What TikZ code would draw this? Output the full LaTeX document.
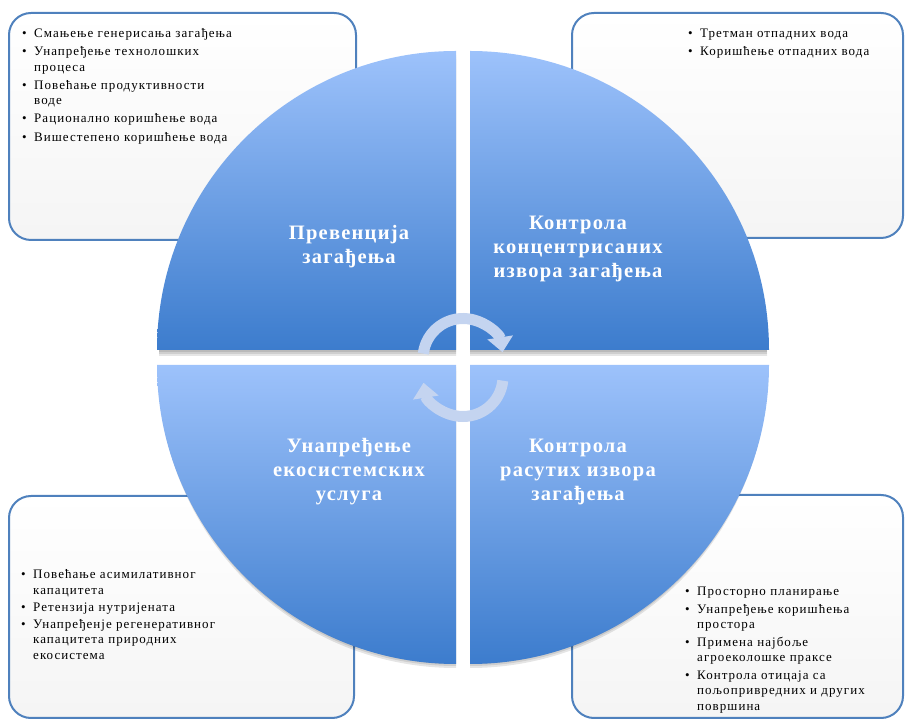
\documentclass[tikz,border=0pt]{standalone}
\usepackage{fontspec}
\setmainfont{Liberation Serif}
\newfontfamily\smallfont[LetterSpace=8]{Liberation Serif}
\newfontfamily\bigfont[LetterSpace=6]{Liberation Serif}
\usetikzlibrary{arrows.meta}
\definecolor{qlight}{RGB}{157,194,251}
\definecolor{qdark}{RGB}{60,124,205}
\definecolor{boxline}{RGB}{79,129,189}
\definecolor{arrowc}{RGB}{196,212,240}
\newcommand\bitem[1]{\par\hangindent=12pt\hangafter=1\noindent\makebox[12pt][l]{\textbullet}\strut#1\par}
\tikzset{
  quad/.style={top color=qlight, bottom color=qdark},
  qshadow/.style={fill=black, opacity=0.10},
  infobox/.style={draw=boxline, line width=2pt, rounded corners=22pt, top color=white, bottom color=black!4},
  qlabel/.style={text=white, align=center, inner sep=0pt, font=\bigfont\bfseries\fontsize{20.5}{24}\selectfont},
  itemtext/.style={anchor=north west, inner sep=0pt, text width=240pt, align=left, font=\smallfont\fontsize{13}{15.5}\selectfont},
  cyc/.style={draw=arrowc, line width=11pt, -{Triangle[width=25pt,length=15pt]}},
}
\begin{document}
\begin{tikzpicture}[x=1pt,y=1pt]
\useasboundingbox (0,0) rectangle (905,720);
% corner boxes
\path[infobox] (9,707) rectangle (356,480);
\path[infobox] (572,707) rectangle (903,482);
\path[infobox] (9,224) rectangle (354,2);
\path[infobox] (572,225) rectangle (903,2);
% box texts
\node[itemtext] (tltext) at (22,700.6) {\setlength\parskip{2.6pt}%
  \bitem{Смањење генерисања загађења}%
  \bitem{Унапређење технолошких\newline процеса}%
  \bitem{Повећање продуктивности\newline воде}%
  \bitem{Рационално коришћење вода}%
  \bitem{Вишестепено коришћење вода}};
\node[itemtext] (trtext) at (688,700.6) {\setlength\parskip{2.6pt}%
  \bitem{Третман отпадних вода}%
  \bitem{Коришћење отпадних вода}};
\node[itemtext] (bltext) at (21,158.6) {\setlength\parskip{1.5pt}%
  \bitem{Повећање асимилативног\newline капацитета}%
  \bitem{Ретензија нутријената}%
  \bitem{Унапређенје регенеративног\newline капацитета природних\newline екосистема}};
\node[itemtext] (brtext) at (685,142) {\setlength\parskip{2pt}%
  \bitem{Просторно планирање}%
  \bitem{Унапређење коришћења\newline простора}%
  \bitem{Примена најбоље\newline агроеколошке праксе}%
  \bitem{Контрола отицаја са\newline пољопривредних и других\newline површина}};
% shadows
\foreach \d in {2,4,6}{
  \path[qshadow] (456,370-\d) -- ++(-297,0) arc[start angle=180,end angle=90,radius=297] -- ++(0,-297) -- cycle;
  \path[qshadow] (470,370-\d) -- ++(0,297) arc[start angle=90,end angle=0,radius=297] -- cycle;
  \path[qshadow] (456,355-\d) -- ++(0,-297) arc[start angle=270,end angle=180,radius=297] -- cycle;
  \path[qshadow] (470,355-\d) -- ++(297,0) arc[start angle=0,end angle=-90,radius=297] -- cycle;
}
% quadrants
\path[quad] (456,370) -- ++(-299,0) arc[start angle=180,end angle=90,radius=299] -- cycle;
\path[quad] (470,370) -- ++(0,299) arc[start angle=90,end angle=0,radius=299] -- cycle;
\path[quad] (456,355) -- ++(0,-299) arc[start angle=270,end angle=180,radius=299] -- cycle;
\path[quad] (470,355) -- ++(299,0) arc[start angle=0,end angle=-90,radius=299] -- cycle;
% labels
\node[qlabel] (prev) at (349,473) {Превенција\\загађења};
\node[qlabel] (konc) at (578,471) {Контрола\\концентрисаних\\извора загађења};
\node[qlabel] (eko) at (349,248) {Унапређење\\екосистемских\\услуга};
\node[qlabel] (rasut) at (578,248) {Контрола\\расутих извора\\загађења};
% cycle arrows
\draw[cyc] (463,361.5) ++(173:40) arc[start angle=173,end angle=9,radius=40];
\draw[cyc] (463,343.5) ++(-6:40) arc[start angle=-6,end angle=-171,radius=40];
\end{tikzpicture}
\end{document}
